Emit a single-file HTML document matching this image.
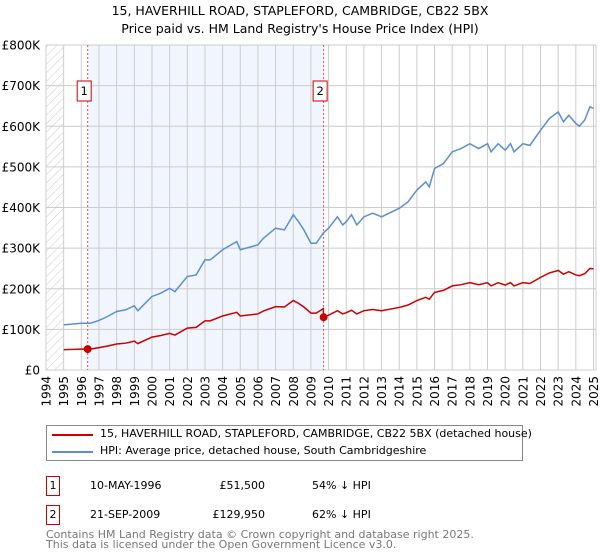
<!DOCTYPE html>
<html><head><meta charset="utf-8"><style>
body{margin:0;background:#fff;font-family:"DejaVu Sans","Liberation Sans",sans-serif;}
#wrap{position:relative;width:600px;height:560px;overflow:hidden}
.t{position:absolute;font-size:12px;color:#000;white-space:nowrap}
</style></head><body><div id="wrap">
<div class="t" style="left:0;width:600px;text-align:center;top:3px;font-size:12.5px">15, HAVERHILL ROAD, STAPLEFORD, CAMBRIDGE, CB22 5BX</div>
<div class="t" style="left:0;width:600px;text-align:center;top:21px;font-size:12.5px">Price paid vs. HM Land Registry's House Price Index (HPI)</div>
<svg id="chart" width="600" height="420" style="position:absolute;left:0;top:0" font-family="DejaVu Sans, Liberation Sans, sans-serif"></svg>
<div style="position:absolute;left:46px;top:425px;width:477px;height:36px;border:1px solid #888;box-sizing:border-box">
<div style="position:absolute;left:5px;top:8px;width:41px;height:2px;background:#cc0000"></div>
<div class="t" style="left:53px;top:1px;font-size:11px">15, HAVERHILL ROAD, STAPLEFORD, CAMBRIDGE, CB22 5BX (detached house)</div>
<div style="position:absolute;left:5px;top:25px;width:41px;height:2px;background:#5b8fd0"></div>
<div class="t" style="left:53px;top:18px;font-size:11px">HPI: Average price, detached house, South Cambridgeshire</div>
</div>
<div style="position:absolute;left:46px;top:476px;width:14px;height:20px;border:1px solid #cc0000;box-sizing:border-box;font-size:11px;text-align:center;line-height:18px">1</div>
<div class="t" style="left:90px;top:479px;font-size:11px">10-MAY-1996</div>
<div class="t" style="left:200px;width:65px;text-align:right;top:479px;font-size:11px">£51,500</div>
<div class="t" style="left:312px;top:479px;font-size:11px">54% ↓ HPI</div>
<div style="position:absolute;left:46px;top:505px;width:14px;height:20px;border:1px solid #cc0000;box-sizing:border-box;font-size:11px;text-align:center;line-height:18px">2</div>
<div class="t" style="left:90px;top:508px;font-size:11px">21-SEP-2009</div>
<div class="t" style="left:200px;width:65px;text-align:right;top:508px;font-size:11px">£129,950</div>
<div class="t" style="left:312px;top:508px;font-size:11px">62% ↓ HPI</div>
<div class="t" style="left:46px;top:530px;font-size:11px;color:#777;line-height:10px">Contains HM Land Registry data © Crown copyright and database right 2025.<br>This data is licensed under the Open Government Licence v3.0.</div>
</div>
<script>
const hpiYears=[1995,1996,1996.5,1997,1997.5,1998,1998.5,1999,1999.2,2000,2000.5,2001,2001.3,2002,2002.5,2003,2003.3,2004,2004.8,2005,2006,2006.3,2007,2007.5,2008,2008.3,2008.6,2009,2009.3,2009.7,2010,2010.5,2010.8,2011,2011.3,2011.6,2012,2012.5,2013,2014,2014.5,2015,2015.5,2015.7,2016,2016.5,2017,2017.5,2018,2018.5,2019,2019.2,2019.6,2020,2020.3,2020.5,2021,2021.4,2022,2022.5,2023,2023.3,2023.6,2024,2024.2,2024.5,2024.8,2025];
const hpiValues=[111,115,115,122,132,144,148,158,146,181,189,201,193,230,234,271,271,296,316,296,308,324,349,345,382,365,345,312,312,337,349,377,357,365,382,357,377,386,377,398,414,443,463,451,496,508,537,545,557,545,557,537,557,541,557,537,557,553,590,619,635,611,627,607,600,615,648,644];
const priceYears=[1995,1996,1996.36,1996.5,1997,1997.5,1998,1998.5,1999,1999.2,2000,2000.5,2001,2001.3,2002,2002.5,2003,2003.3,2004,2004.8,2005,2006,2006.3,2007,2007.5,2008,2008.3,2008.6,2009,2009.3,2009.7,2009.72,2010,2010.5,2010.8,2011,2011.3,2011.6,2012,2012.5,2013,2014,2014.5,2015,2015.5,2015.7,2016,2016.5,2017,2017.5,2018,2018.5,2019,2019.2,2019.6,2020,2020.3,2020.5,2021,2021.4,2022,2022.5,2023,2023.3,2023.6,2024,2024.2,2024.5,2024.8,2025];
const priceValues=[50,51.5,51.5,51.5,55,59,64,66,71,65,81,85,90,86,103,105,121,121,133,142,133,138,145,156,155,171,164,155,140,140,151,130,135,146,138,141,147,138,146,149,146,154,160,171,179,174,191,196,207,210,215,210,215,207,215,209,215,207,215,213,228,239,245,236,242,234,232,237,250,249];
const saleYears=[1996.36,2009.72];
const saleValues=[51.5,129.95];
const saleLabels=["1","2"];
const yTicks=[0,100,200,300,400,500,600,700,800];
const yTickLabels=["£0","£100K","£200K","£300K","£400K","£500K","£600K","£700K","£800K"];
const xTicks=[1994,1995,1996,1997,1998,1999,2000,2001,2002,2003,2004,2005,2006,2007,2008,2009,2010,2011,2012,2013,2014,2015,2016,2017,2018,2019,2020,2021,2022,2023,2024,2025];

const L=46,R=596,T=45,B=370;
const x=y=>L+(y-1994)*(593.5-46)/31;
const yS=v=>B-v/800*(B-T);
const svg=document.getElementById('chart');
const NS='http://www.w3.org/2000/svg';
function mk(tag,attrs,parent){const e=document.createElementNS(NS,tag);for(const k in attrs)e.setAttribute(k,attrs[k]);(parent||svg).appendChild(e);return e;}
const defs=mk('defs',{});
const pat=mk('pattern',{id:'hatch',width:6,height:6,patternUnits:'userSpaceOnUse',patternTransform:'rotate(45)'},defs);
mk('line',{x1:0,y1:0,x2:0,y2:6,stroke:'#ccc','stroke-width':1},pat);
let e;
e=mk('rect',{x:L,y:T,width:R-L,height:B-T,fill:'#fff'});


e=mk('rect',{x:L,y:T,width:x(1995)-L,height:B-T,fill:'url(#hatch)'});


e=mk('rect',{x:x(saleYears[0]),y:T,width:x(saleYears[1])-x(saleYears[0]),height:B-T,fill:'#eef3fc',opacity:0.8});


xTicks.forEach(yr=>{
  e=mk('line',{x1:x(yr),x2:x(yr),y1:T,y2:B,stroke:'#ccc','stroke-width':1});
  
  
  e=mk('text',{x:0,y:0,'font-size':12,'text-anchor':'end',transform:`translate(${x(yr)+4.5},${B+6}) rotate(-90)`});
  e.textContent=yr;
  
  
});
yTicks.forEach((v,i)=>{
  e=mk('line',{x1:L,x2:R,y1:yS(v),y2:yS(v),stroke:'#ccc','stroke-width':1});
  
  
  e=mk('text',{x:40,y:yS(v)+4.5,'font-size':12,'text-anchor':'end'});
  e.textContent=yTickLabels[i];
  
  
});
e=mk('rect',{x:L,y:T,width:R-L,height:B-T,fill:'none',stroke:'#ccc'});


saleYears.forEach((yr,i)=>{
  e=mk('line',{x1:x(yr),x2:x(yr),y1:T,y2:B,stroke:'#e05050','stroke-width':1,'stroke-dasharray':'2,2'});
  
  
  e=mk('rect',{x:x(yr)-10.5,y:81,width:14,height:20,fill:'#fff',stroke:'#cc0000'});
  
  
  e=mk('text',{x:x(yr)-3.5,y:95,'font-size':11.5,'text-anchor':'middle'});
  e.textContent=saleLabels[i];
  
  
});
e=mk('polyline',{points:hpiYears.map((yr,i)=>x(yr)+','+yS(hpiValues[i])).join(' '),fill:'none',stroke:'#5b8fd0','stroke-width':1.5});


e=mk('polyline',{points:priceYears.map((yr,i)=>x(yr)+','+yS(priceValues[i])).join(' '),fill:'none',stroke:'#cc0000','stroke-width':1.5});


saleYears.forEach((yr,i)=>{
  e=mk('circle',{cx:x(yr),cy:yS(saleValues[i]),r:4,fill:'#cc0000'});
  
  
});
</script>
</body></html>
